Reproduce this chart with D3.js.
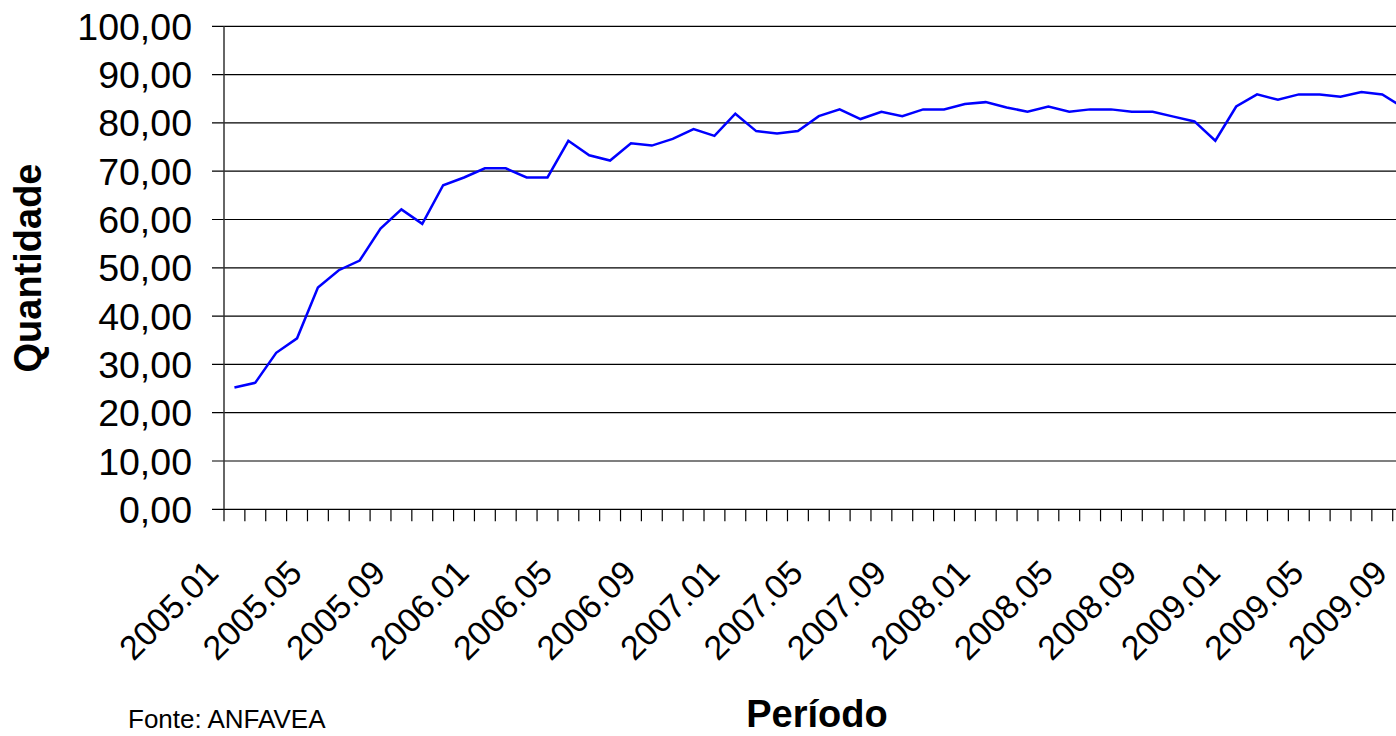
<!DOCTYPE html>
<html>
<head>
<meta charset="utf-8">
<script src="https://cdn.jsdelivr.net/npm/d3@7"></script>
<style>
  body { margin: 0; background: #fff; overflow: hidden; }
  svg { display: block; font-family: "Liberation Sans", Arial, sans-serif; }
</style>
</head>
<body>
<svg id="chart"></svg>
<script>
// data
const years = ["2005", "2006", "2007", "2008", "2009"];
const monthNames = ["01", "02", "03", "04", "05", "06", "07", "08", "09", "10", "11", "12"];
const periods = [];
years.forEach(y => monthNames.forEach(m => periods.push(y + "." + m)));
periods.splice(57); // last visible one is 2009.09

const values = [
  25.2, 26.2, 32.4, 35.4, 45.9, 49.5, 51.5, 58.1, 62.1, 59.1,
  67.1, 68.7, 70.6, 70.6, 68.7, 68.7, 76.3, 73.3, 72.2, 75.8,
  75.3, 76.7, 78.7, 77.3, 81.9, 78.3, 77.8, 78.3, 81.4, 82.8,
  80.8, 82.3, 81.4, 82.8, 82.8, 83.9, 84.3, 83.2, 82.3, 83.4,
  82.3, 82.8, 82.8, 82.3, 82.3, 81.3, 80.3, 76.3, 83.4, 85.9,
  84.8, 85.9, 85.9, 85.4, 86.4, 85.9, 83.2
];
const yTicks = [0, 10, 20, 30, 40, 50, 60, 70, 80, 90, 100];

const dims = { width: 1396, height: 736, left: 224, top: 26.3, bottom: 509.3, step: 20.87 };

const svg = d3.select("#chart")
  .attr("width", dims.width)
  .attr("height", dims.height);

const x = d3.scaleBand()
  .domain(periods)
  .range([dims.left, dims.left + dims.step * periods.length])
  .padding(0);

const y = d3.scaleLinear()
  .domain([0, 100])
  .range([dims.bottom, dims.top]);

const fmt = d => d3.format(".2f")(d).replace(".", ",");

// gridlines + y ticks
svg.append("g")
  .selectAll("line")
  .data(yTicks)
  .join("line")
  .attr("x1", dims.left - 12)
  .attr("x2", dims.width)
  .attr("y1", d => y(d))
  .attr("y2", d => y(d))
  .attr("stroke", "#000")
  .attr("stroke-width", 1.2);

svg.append("g")
  .selectAll("text")
  .data(yTicks)
  .join("text")
  .attr("x", 192)
  .attr("y", d => y(d))
  .attr("dy", "0.36em")
  .attr("text-anchor", "end")
  .attr("font-size", 37.5)
  .attr("fill", "#000")
  .text(fmt);

// left axis line
svg.append("line")
  .attr("x1", dims.left).attr("x2", dims.left)
  .attr("y1", y(100)).attr("y2", y(0))
  .attr("stroke", "#333").attr("stroke-width", 1.5);

// x ticks at category edges
const edges = periods.map(p => x(p)).concat([x.range()[1]]);
svg.append("g")
  .selectAll("line")
  .data(edges)
  .join("line")
  .attr("x1", d => d).attr("x2", d => d)
  .attr("y1", y(0)).attr("y2", y(0) + 12)
  .attr("stroke", "#000")
  .attr("stroke-width", 1.2);

// x labels, every 4 months
svg.append("g")
  .selectAll("text")
  .data(periods.filter((p, i) => i % 4 === 0))
  .join("text")
  .attr("transform", d => `translate(${x(d) + x.bandwidth() / 2 - 14},575) rotate(-45)`)
  .attr("text-anchor", "end")
  .attr("font-size", 34)
  .attr("fill", "#000")
  .text(d => d);

// the line
const line = d3.line()
  .x((d, i) => x(periods[i]) + x.bandwidth() / 2)
  .y(d => y(d));

svg.append("path")
  .datum(values)
  .attr("d", line)
  .attr("fill", "none")
  .attr("stroke", "#0000ff")
  .attr("stroke-width", 2.5)
  .attr("stroke-linejoin", "miter");

// titles
svg.append("text")
  .attr("transform", "translate(41,268) rotate(-90)")
  .attr("text-anchor", "middle")
  .attr("font-size", 38)
  .attr("font-weight", "bold")
  .text("Quantidade");

svg.append("text")
  .attr("x", 817)
  .attr("y", 727)
  .attr("text-anchor", "middle")
  .attr("font-size", 38)
  .attr("font-weight", "bold")
  .text("Período");

svg.append("text")
  .attr("x", 128)
  .attr("y", 728)
  .attr("font-size", 26)
  .text("Fonte: ANFAVEA");
</script>
</body>
</html>
